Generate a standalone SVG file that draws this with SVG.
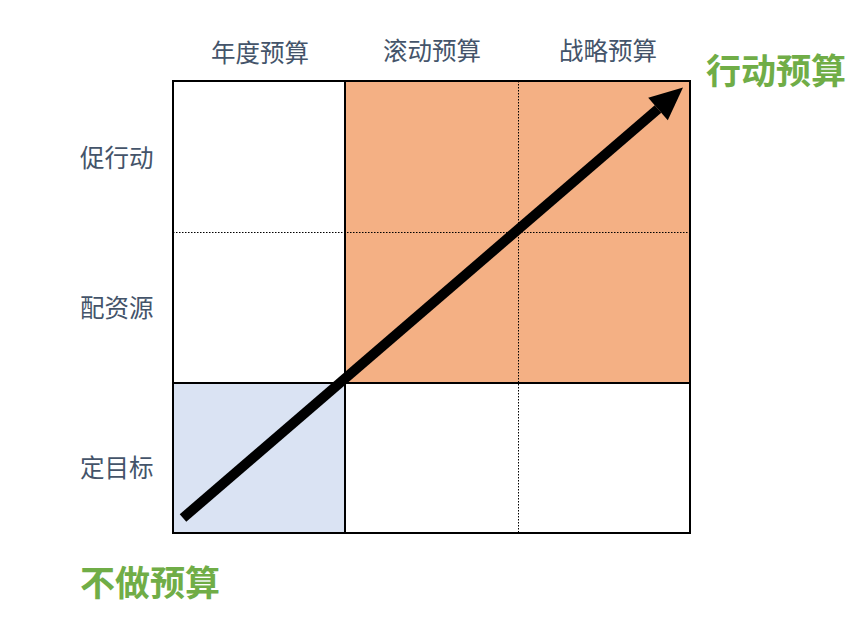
<svg xmlns="http://www.w3.org/2000/svg" width="865" height="620" viewBox="0 0 865 620">
<style>
.lbl{font-family:"Noto Sans CJK SC","Noto Sans",sans-serif;font-size:24.5px;fill:#44546a;dominant-baseline:central}
.big{font-family:"Noto Sans CJK SC","Noto Sans",sans-serif;font-size:35px;font-weight:bold;fill:#70ad47;dominant-baseline:central}
.solid{stroke:#000;stroke-width:2;fill:none}
.dot{stroke:#000;stroke-width:1;stroke-dasharray:1.5 1.5;fill:none}
</style>
<defs>
<marker id="ah" markerUnits="userSpaceOnUse" markerWidth="34" markerHeight="32" refX="0" refY="15" orient="auto" overflow="visible">
<path d="M0,0 L33,15 L0,30 Z" fill="#000"/>
</marker>
</defs>
<rect width="865" height="620" fill="#fff"/>
<g id="cells">
<rect x="345" y="81" width="345" height="302" fill="#f4b084"/>
<rect x="173" y="383" width="172" height="150" fill="#dae3f3"/>
</g>
<g id="grid">
<line class="dot" x1="173" y1="232.5" x2="690" y2="232.5"/>
<line class="dot" x1="518.5" y1="81" x2="518.5" y2="533"/>
<line class="solid" x1="173" y1="383" x2="690" y2="383"/>
<line class="solid" x1="345" y1="81" x2="345" y2="533"/>
<rect class="solid" x="173" y="81" width="517" height="452"/>
</g>
<g id="col-labels">
<text class="lbl" x="260" y="51" text-anchor="middle">年度预算</text>
<text class="lbl" x="432" y="49" text-anchor="middle">滚动预算</text>
<text class="lbl" x="608" y="49" text-anchor="middle">战略预算</text>
</g>
<g id="row-labels">
<text class="lbl" x="80" y="156">促行动</text>
<text class="lbl" x="80" y="306">配资源</text>
<text class="lbl" x="80" y="466">定目标</text>
</g>
<g id="connectors">
<line x1="183" y1="518" x2="658" y2="109" stroke="#000" stroke-width="10" marker-end="url(#ah)"/>
</g>
<g id="end-labels">
<text class="big" x="706" y="68">行动预算</text>
<text class="big" x="80" y="580">不做预算</text>
</g>
</svg>
